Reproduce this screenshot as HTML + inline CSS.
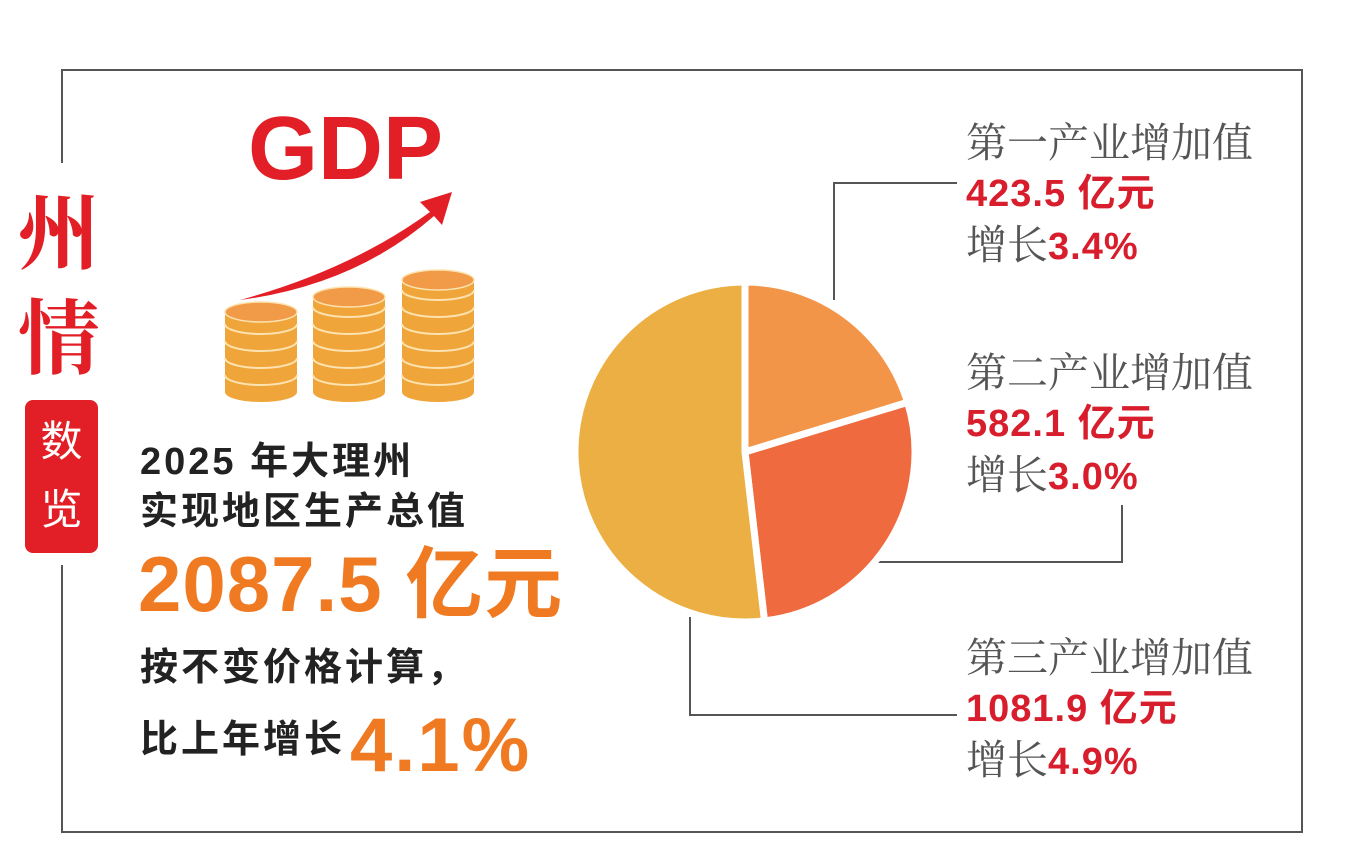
<!DOCTYPE html>
<html><head><meta charset="utf-8"><style>
body{margin:0;width:1352px;height:854px;background:#fff;position:relative;overflow:hidden;font-family:"Liberation Sans","Noto Sans CJK SC",sans-serif}
.a{position:absolute;white-space:nowrap;line-height:1}
.k{font-weight:bold;color:#222;font-size:38px;letter-spacing:3px}
.g{color:#555;font-size:41px;font-family:"Liberation Sans","Noto Serif CJK SC",serif}
.r{color:#d81e2c;font-weight:bold;font-size:38px;letter-spacing:1px}
.o{color:#ef7a22;font-weight:bold}
</style></head><body>
<svg class="a" style="left:0;top:0" width="1352" height="854">
<g stroke="#555" stroke-width="2" fill="none">
<polyline points="62,163 62,70 1302,70 1302,832 62,832 62,565"/>
<polyline points="834,300 834,183 957,183"/>
<polyline points="878,562 1122,562 1122,505"/>
<polyline points="690,617 690,715 957,715"/>
</g>
<path d="M240,300 Q350,270 430,212 L420,202 L452,192 L442,225 L434,216 Q355,285 240,300Z" fill="#e21f26"/>
<g id="coins"></g>
<g id="pie"></g>
<rect x="25" y="400" width="73" height="153" rx="8" fill="#e21f26"/>
</svg>
<div class="a" style="left:14px;top:175px;font-size:82px;color:#e21f26;font-weight:bold;font-family:'Noto Serif CJK SC',serif;line-height:105px;width:90px;text-align:center">州<br>情</div>
<div class="a" style="left:25px;top:408px;width:73px;text-align:center;font-size:42px;color:#fff;line-height:68px">数<br>览</div>
<div class="a" style="left:248px;top:104px;font-size:90px;font-weight:bold;color:#e21f26">GDP</div>
<div class="a k" style="left:140px;top:443px">2025 年大理州</div>
<div class="a k" style="left:140px;top:493px">实现地区生产总值</div>
<div class="a o" style="left:138px;top:545px;font-size:78px;letter-spacing:1px">2087.5 亿元</div>
<div class="a k" style="left:140px;top:649px">按不变价格计算，</div>
<div class="a k" style="left:140px;top:721px">比上年增长</div>
<div class="a o" style="left:350px;top:708px;font-size:76px;letter-spacing:2px">4.1%</div>
<div id="labels"></div>
<script>
const categories=["第一产业增加值","第二产业增加值","第三产业增加值"];
const values=[423.5,582.1,1081.9];
const growth=["3.4%","3.0%","4.9%"];
const colors=["#f39549","#f06a3f","#ecaf43"];
const ns="http://www.w3.org/2000/svg";
const cx=745,cy=452,R=170;
const total=values.reduce((a,b)=>a+b,0);
const pie=document.getElementById('pie');
let ang=0;
values.forEach((v,i)=>{
 const a0=ang,a1=ang+v/total*2*Math.PI;ang=a1;
 const p=(a)=>[cx+R*Math.sin(a),cy-R*Math.cos(a)];
 const [x0,y0]=p(a0),[x1,y1]=p(a1);
 const path=document.createElementNS(ns,'path');
 path.setAttribute('d',`M${cx},${cy}L${x0},${y0}A${R},${R} 0 ${a1-a0>Math.PI?1:0} 1 ${x1},${y1}Z`);
 path.setAttribute('fill',colors[i]);path.setAttribute('stroke','#fff');path.setAttribute('stroke-width','7');path.setAttribute('stroke-linejoin','round');
 
 
 pie.appendChild(path);
});
const labelTops=[123,353,638];
const lab=document.getElementById('labels');
categories.forEach((c,i)=>{
 const d=document.createElement('div');d.className='a';d.style.left='966px';d.style.top=labelTops[i]+'px';
 
 
 d.innerHTML=`<div class="g" style="height:52px">${c}</div><div class="r" style="height:50px">${values[i]} 亿元</div><div class="g">增长<span class="r">${growth[i]}</span></div>`;
 lab.appendChild(d);
});
const coins=document.getElementById('coins');
const stacks=[[225,312],[313,297],[402,280]];
stacks.forEach(([x,top],s)=>{
 const bottom=392,w=72,rx=36,ry=10;
 let h='';
 h+=`<rect x="${x}" y="${top}" width="${w}" height="${bottom-top}" fill="#f0a53a"/><ellipse cx="${x+rx}" cy="${bottom}" rx="${rx}" ry="${ry}" fill="#f0a53a"/>`;
 for(let y=bottom-17;y>top+6;y-=17)h+=`<path d="M${x},${y} A${rx},${ry} 0 0 0 ${x+w},${y}" stroke="#fde3b0" stroke-width="2" fill="none"/>`;
 h+=`<ellipse cx="${x+rx}" cy="${top}" rx="${rx}" ry="${ry}" fill="#f19a48" stroke="#fde3b0" stroke-width="1.5"/>`;
 const g=document.createElementNS(ns,'g');g.innerHTML=h;
 
 
 coins.appendChild(g);
});
</script>
</body></html>
